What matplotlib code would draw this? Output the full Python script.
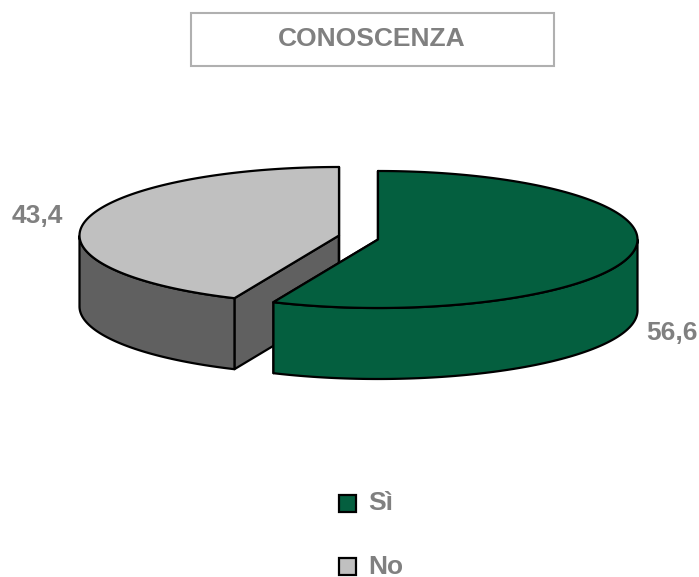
import numpy as np
import matplotlib
matplotlib.use("Agg")
import matplotlib.pyplot as plt
from matplotlib.patches import Polygon, Rectangle

title = "CONOSCENZA"
categories = ["Sì", "No"]
values = [56.6, 43.4]
value_labels = ["56,6", "43,4"]
top_colors = ["#045F3F", "#C0C0C0"]
side_colors = ["#045F3F", "#606060"]
text_color = "#808080"

plt.rcParams['font.family'] = ['Liberation Sans', 'DejaVu Sans']
fig = plt.figure(figsize=(6.99, 5.77), dpi=100)
ax = fig.add_axes([0, 0, 1, 1])
ax.set_xlim(0, 699)
ax.set_ylim(577, 0)
ax.axis('off')

RX, RY, DEPTH = 259.5, 68.5, 71
centers = [(378, 239.5), (339, 235.5)]
fracs = np.array(values) / sum(values)
starts = 90 - 360 * np.concatenate([[0], np.cumsum(fracs)[:-1]])
ends = starts - 360 * fracs


def ell(c, angles, dy=0):
    a = np.radians(angles)
    return np.column_stack([c[0] + RX * np.cos(a), c[1] - RY * np.sin(a) + dy])


def draw(i, z):
    c, s, e = centers[i], starts[i], ends[i]
    ang = np.linspace(s, e, 200)
    kw = dict(edgecolor='black', linewidth=1.6, joinstyle='round')
    # cut faces
    for a in (s, e):
        p = ell(c, [a])[0]
        q = np.array(c)
        ax.add_patch(Polygon([q, p, p + [0, DEPTH], q + [0, DEPTH]], closed=True,
                             facecolor=side_colors[i], zorder=z, **kw))
    # outer wall: the part of the rim facing the viewer (lower half)
    s_ = ang[np.sin(np.radians(ang)) <= 0]
    if len(s_):
        up = ell(c, s_)
        dn = ell(c, s_, DEPTH)[::-1]
        ax.add_patch(Polygon(np.vstack([up, dn]), closed=True,
                             facecolor=side_colors[i], zorder=z + .1, **kw))
    ax.add_patch(Polygon(np.vstack([[c], ell(c, ang)]), closed=True,
                         facecolor=top_colors[i], zorder=z + .2, **kw))


draw(1, 2)
draw(0, 3)

FS = 19
ax.add_patch(Rectangle((190.5, 12.5), 363, 53, facecolor='white',
                       edgecolor='#B0B0B0', linewidth=1.5, zorder=1))
ax.text(372, 38.5, title, ha='center', va='center', fontsize=FS,
        fontweight='bold', color=text_color)
ax.text(672, 333, value_labels[0], ha='center', va='center', fontsize=FS,
        fontweight='bold', color=text_color)
ax.text(37, 216, value_labels[1], ha='center', va='center', fontsize=FS,
        fontweight='bold', color=text_color)

for cat, col, y in zip(categories, top_colors, [503.5, 566.5]):
    ax.add_patch(Rectangle((339, y - 8.5), 17, 17, facecolor=col,
                           edgecolor='black', linewidth=1.6, zorder=4))
    ax.text(368, y, cat, ha='left', va='center', fontsize=FS,
            fontweight='bold', color=text_color)

fig.savefig("out.png", dpi=100)
